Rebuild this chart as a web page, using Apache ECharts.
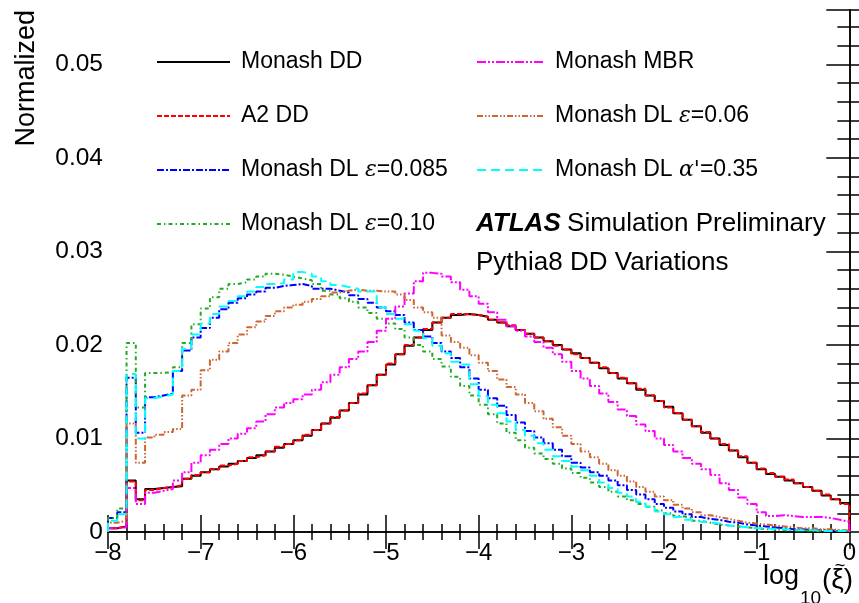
<!DOCTYPE html>
<html><head><meta charset="utf-8">
<script src="https://cdn.jsdelivr.net/npm/echarts@6/dist/echarts.min.js"></script>
<style>html,body{margin:0;padding:0;background:#fff}#c{width:859px;height:603px}</style>
</head><body><div id="c"></div>
<script>
// Histogram binning: 80 bins of width 0.1 from -8 to 0
const binStart = -8, binWidth = 0.1;
const xTicks = [-8, -7, -6, -5, -4, -3, -2, -1, 0];
const yTicks = [0, 0.01, 0.02, 0.03, 0.04, 0.05];

const monashDD = [0.0004,0.0006,0.0055,0.0035,0.0046,0.0047,0.0048,0.0049,0.0057,0.0060,
  0.0064,0.0067,0.0070,0.0073,0.0076,0.0079,0.0082,0.0086,0.0090,0.0094,
  0.0098,0.0103,0.0109,0.0116,0.0122,0.0130,0.0138,0.0147,0.0157,0.0168,
  0.0179,0.0190,0.0199,0.0208,0.0216,0.0224,0.0229,0.0232,0.0233,0.0232,
  0.0230,0.0227,0.0224,0.0220,0.0216,0.0212,0.0208,0.0204,0.0200,0.0195,
  0.0191,0.0186,0.0181,0.0175,0.0170,0.0164,0.0159,0.0152,0.0146,0.0140,
  0.0134,0.0127,0.0120,0.0113,0.0106,0.0100,0.0093,0.0087,0.0080,0.0074,
  0.0067,0.0062,0.0059,0.0055,0.0052,0.0048,0.0044,0.0039,0.0035,0.0031];
const a2DD = [0.0004,0.0006,0.0054,0.0034,0.0045,0.0047,0.0048,0.0050,0.0057,0.0061,
  0.0064,0.0067,0.0071,0.0073,0.0076,0.0080,0.0082,0.0086,0.0091,0.0094,
  0.0098,0.0104,0.0109,0.0116,0.0123,0.0130,0.0138,0.0148,0.0157,0.0168,
  0.0180,0.0190,0.0200,0.0208,0.0217,0.0224,0.0229,0.0233,0.0233,0.0232,
  0.0230,0.0227,0.0224,0.0221,0.0216,0.0212,0.0208,0.0204,0.0199,0.0195,
  0.0190,0.0186,0.0181,0.0176,0.0170,0.0165,0.0159,0.0153,0.0146,0.0140,
  0.0133,0.0127,0.0120,0.0113,0.0107,0.0100,0.0094,0.0087,0.0081,0.0074,
  0.0068,0.0063,0.0059,0.0056,0.0052,0.0048,0.0044,0.0040,0.0035,0.0030];
const monashMBR = [0.0004,0.0005,0.0047,0.0030,0.0042,0.0044,0.0046,0.0055,0.0064,0.0074,
  0.0082,0.0088,0.0094,0.0100,0.0105,0.0111,0.0118,0.0126,0.0133,0.0138,
  0.0142,0.0147,0.0152,0.0160,0.0168,0.0176,0.0185,0.0193,0.0203,0.0215,
  0.0228,0.0241,0.0255,0.0268,0.0277,0.0276,0.0273,0.0267,0.0259,0.0252,
  0.0244,0.0235,0.0227,0.0220,0.0215,0.0209,0.0203,0.0197,0.0190,0.0182,
  0.0172,0.0164,0.0156,0.0148,0.0139,0.0131,0.0124,0.0115,0.0108,0.0100,
  0.0093,0.0086,0.0079,0.0073,0.0067,0.0061,0.0052,0.0045,0.0037,0.0030,
  0.0021,0.0017,0.0018,0.0017,0.0016,0.0016,0.0016,0.0015,0.0013,0.0011];
const dlEps006 = [0.0010,0.0012,0.0116,0.0074,0.0101,0.0104,0.0107,0.0110,0.0146,0.0152,
  0.0173,0.0184,0.0193,0.0202,0.0211,0.0219,0.0225,0.0231,0.0236,0.0240,
  0.0243,0.0246,0.0249,0.0252,0.0256,0.0258,0.0259,0.0258,0.0258,0.0257,
  0.0257,0.0254,0.0248,0.0240,0.0235,0.0229,0.0210,0.0203,0.0197,0.0189,
  0.0181,0.0172,0.0163,0.0155,0.0147,0.0138,0.0129,0.0121,0.0112,0.0103,
  0.0094,0.0086,0.0080,0.0073,0.0066,0.0060,0.0054,0.0048,0.0043,0.0038,
  0.0034,0.0029,0.0025,0.0021,0.0018,0.0016,0.0014,0.0012,0.0010,0.0009,
  0.0008,0.0007,0.0006,0.0005,0.0004,0.0004,0.0003,0.0003,0.0002,0.0002];
const dlEps0085 = [0.0015,0.0021,0.0165,0.0106,0.0144,0.0146,0.0148,0.0172,0.0194,0.0208,
  0.0218,0.0229,0.0238,0.0245,0.0250,0.0254,0.0257,0.0261,0.0263,0.0264,
  0.0265,0.0263,0.0260,0.0260,0.0258,0.0256,0.0253,0.0249,0.0245,0.0240,
  0.0236,0.0232,0.0224,0.0216,0.0209,0.0202,0.0193,0.0186,0.0176,0.0164,
  0.0152,0.0143,0.0135,0.0125,0.0117,0.0108,0.0101,0.0095,0.0088,0.0081,
  0.0074,0.0069,0.0064,0.0060,0.0055,0.0050,0.0045,0.0040,0.0035,0.0030,
  0.0026,0.0022,0.0019,0.0016,0.0014,0.0013,0.0011,0.0010,0.0008,0.0007,
  0.0006,0.0005,0.0004,0.0003,0.0003,0.0002,0.0002,0.0002,0.0001,0.0001];
const dlAlpha035 = [0.0012,0.0019,0.0169,0.0100,0.0143,0.0145,0.0147,0.0172,0.0196,0.0211,
  0.0223,0.0233,0.0241,0.0247,0.0252,0.0257,0.0262,0.0265,0.0266,0.0270,
  0.0278,0.0276,0.0273,0.0268,0.0264,0.0262,0.0260,0.0257,0.0257,0.0240,
  0.0233,0.0228,0.0222,0.0215,0.0207,0.0199,0.0191,0.0182,0.0179,0.0158,
  0.0145,0.0136,0.0127,0.0118,0.0109,0.0103,0.0095,0.0088,0.0081,0.0076,
  0.0070,0.0066,0.0060,0.0053,0.0047,0.0042,0.0038,0.0032,0.0027,0.0022,
  0.0019,0.0016,0.0013,0.0011,0.0010,0.0009,0.0007,0.0006,0.0005,0.0004,
  0.0004,0.0003,0.0003,0.0002,0.0002,0.0002,0.0001,0.0001,0.0001,0.0001];
const dlEps010 = [0.0015,0.0025,0.0202,0.0133,0.0170,0.0170,0.0171,0.0176,0.0202,0.0222,
  0.0239,0.0251,0.0260,0.0265,0.0267,0.0270,0.0273,0.0276,0.0275,0.0273,
  0.0271,0.0269,0.0265,0.0258,0.0254,0.0250,0.0246,0.0240,0.0234,0.0228,
  0.0223,0.0217,0.0208,0.0200,0.0193,0.0185,0.0177,0.0166,0.0156,0.0146,
  0.0136,0.0126,0.0116,0.0106,0.0098,0.0090,0.0084,0.0078,0.0073,0.0068,
  0.0063,0.0058,0.0053,0.0048,0.0043,0.0038,0.0034,0.0030,0.0027,0.0023,
  0.0020,0.0017,0.0015,0.0012,0.0010,0.0008,0.0007,0.0006,0.0005,0.0004,
  0.0003,0.0003,0.0002,0.0002,0.0002,0.0001,0.0001,0.0001,0.0001,0.0001];

const seriesNames = ['Monash DD','A2 DD','Monash DL ε=0.085','Monash DL ε=0.10','Monash MBR','Monash DL ε=0.06',"Monash DL α'=0.35"];
const seriesValues = [monashDD, a2DD, dlEps0085, dlEps010, monashMBR, dlEps006, dlAlpha035];
const seriesColors = ['#000000','#ff0000','#0000ff','#22aa22','#ff00ff','#cc6633','#00ffff'];
const seriesDash = ['solid',[5,2],[7,2,2,2],[4,3,1.5,3],[9,2,2,2,2,2],[6,2,1.5,2,1.5,2],[9,5]];
const legendCol1 = ['Monash DD','A2 DD','Monash DL ε=0.085','Monash DL ε=0.10'];
const legendCol2 = ['Monash MBR','Monash DL ε=0.06',"Monash DL α'=0.35"];

function toSteps(vals){
  const pts = [[binStart, 0]];
  vals.forEach((v,i)=>pts.push([+(binStart + i*binWidth).toFixed(2), v]));
  pts.push([0, vals[vals.length-1]]);
  pts.push([0, 0]);
  return pts;
}

const FONT = 'Liberation Sans, Arial, Helvetica, sans-serif';
const chart = echarts.init(document.getElementById('c'), null, {renderer:'canvas'});

function legendFmt(name){
  const m = name.match(/^(Monash DL )([εα]'?)(=.*)$/);
  if (m) return '{f|' + m[1] + '}{i|' + m[2] + '}{n|' + m[3] + '}';
  return '{f|' + name + '}';
}
function legendText(){
  return {
    color:'#000', fontFamily: FONT, fontSize: 23, lineHeight: 28,
    rich: {
      f:{fontFamily:FONT, fontSize:23, color:'#000', padding:[0,0,0,6]},
      n:{fontFamily:FONT, fontSize:23, color:'#000'},
      i:{fontFamily:'DejaVu Serif, serif', fontStyle:'italic', fontSize:22, color:'#000'} }
  };
}

const ymax = 0.0558;
const commonTickLine = {color:'#000', width:1.5};

chart.setOption({
  animation:false,
  backgroundColor:'#fff',
  grid:{left:108, right:7, top:10, bottom:71, containLabel:false},
  xAxis:[
    {type:'value', min:xTicks[0], max:xTicks[xTicks.length-1], interval:1, position:'bottom',
     axisLine:{show:true, lineStyle:{color:'#000', width:1.5}},
     axisTick:{show:true, inside:true, length:17, lineStyle:commonTickLine},
     minorTick:{show:true, splitNumber:5, length:8, lineStyle:commonTickLine},
     splitLine:{show:false},
     axisLabel:{color:'#000', fontFamily:FONT, fontSize:24, margin:9,
       formatter:v=> v<0 ? '\u2212'+Math.abs(v) : String(v)}},
    {type:'value', min:xTicks[0], max:xTicks[xTicks.length-1], interval:1, position:'top',
     axisLine:{show:true, lineStyle:{color:'#000', width:1.5}},
     axisTick:{show:true, inside:true, length:17, lineStyle:commonTickLine},
     minorTick:{show:true, splitNumber:5, length:8, lineStyle:commonTickLine},
     splitLine:{show:false}, axisLabel:{show:false}}
  ],
  yAxis:[
    {type:'value', min:0, max:ymax, interval:0.01, position:'left',
     axisLine:{show:true, lineStyle:{color:'#000', width:1.5}},
     axisTick:{show:true, inside:true, length:23, lineStyle:commonTickLine},
     splitLine:{show:false},
     axisLabel:{color:'#000', fontFamily:FONT, fontSize:24.5, margin:5, showMaxLabel:false,
       formatter:v=> yTicks.some(t=>Math.abs(t-v)<1e-9) ? (v===0?'0':v.toFixed(2)) : ''}},
    {type:'value', min:0, max:ymax, interval:0.002, position:'left',
     axisLine:{show:false}, axisTick:{show:true, inside:true, length:12, lineStyle:commonTickLine},
     splitLine:{show:false}, axisLabel:{show:false}},
    {type:'value', min:0, max:ymax, interval:0.01, position:'right',
     axisLine:{show:true, lineStyle:{color:'#000', width:1.5}},
     axisTick:{show:true, inside:true, length:23, lineStyle:commonTickLine},
     splitLine:{show:false}, axisLabel:{show:false}},
    {type:'value', min:0, max:ymax, interval:0.002, position:'right',
     axisLine:{show:false}, axisTick:{show:true, inside:true, length:12, lineStyle:commonTickLine},
     splitLine:{show:false}, axisLabel:{show:false}}
  ],
  legend:[
    {data:legendCol1, orient:'vertical', left:156, top:48, padding:0, itemWidth:73, itemHeight:2, itemGap:26,
     itemStyle:{opacity:0}, formatter:legendFmt, textStyle:legendText(), selectedMode:false},
    {data:legendCol2, orient:'vertical', left:476, top:48, padding:0, itemWidth:67, itemHeight:2, itemGap:26,
     itemStyle:{opacity:0}, formatter:legendFmt, textStyle:legendText(), selectedMode:false}
  ],
  series: seriesNames.map((nm,k)=>({
    name: nm, type:'line', step:'end', xAxisIndex:0, yAxisIndex:0,
    data: toSteps(seriesValues[k]), symbol:'none', showSymbol:false, clip:true,
    lineStyle:{color:seriesColors[k], width:2, type:seriesDash[k]},
    itemStyle:{color:seriesColors[k]}, z: 2+k
  })),
  graphic:[
    {type:'text', left:476, top:211, style:{
      text:'{b|ATLAS} {n|Simulation Preliminary}', rich:{
        b:{fontFamily:FONT, fontWeight:'bold', fontStyle:'italic', fontSize:26, fill:'#000', padding:[0,3,0,0]},
        n:{fontFamily:FONT, fontSize:26, fill:'#000'}}}},
    {type:'text', left:476, top:250, style:{text:'Pythia8 DD Variations', fontFamily:FONT, fontSize:26, fill:'#000'}},
    {type:'text', x:13, y:10, rotation:Math.PI/2, style:{text:'Normalized', fontFamily:FONT, fontSize:27, fill:'#000', align:'right', verticalAlign:'top'}},
    {type:'text', x:763, y:577, style:{text:'log', fontFamily:FONT, fontSize:27, fill:'#000', align:'left', verticalAlign:'middle'}},
    {type:'text', x:800, y:599, style:{text:'10', fontFamily:FONT, fontSize:19, fill:'#000', align:'left', verticalAlign:'middle'}},
    {type:'text', x:822, y:580, style:{text:'(\u03BE)', fontFamily:FONT, fontSize:28, fill:'#000', align:'left', verticalAlign:'middle'}},
    {type:'text', x:840, y:566, style:{text:'~', fontFamily:FONT, fontSize:18, fill:'#000', align:'center', verticalAlign:'middle'}}
  ]
});
</script>
</body></html>
